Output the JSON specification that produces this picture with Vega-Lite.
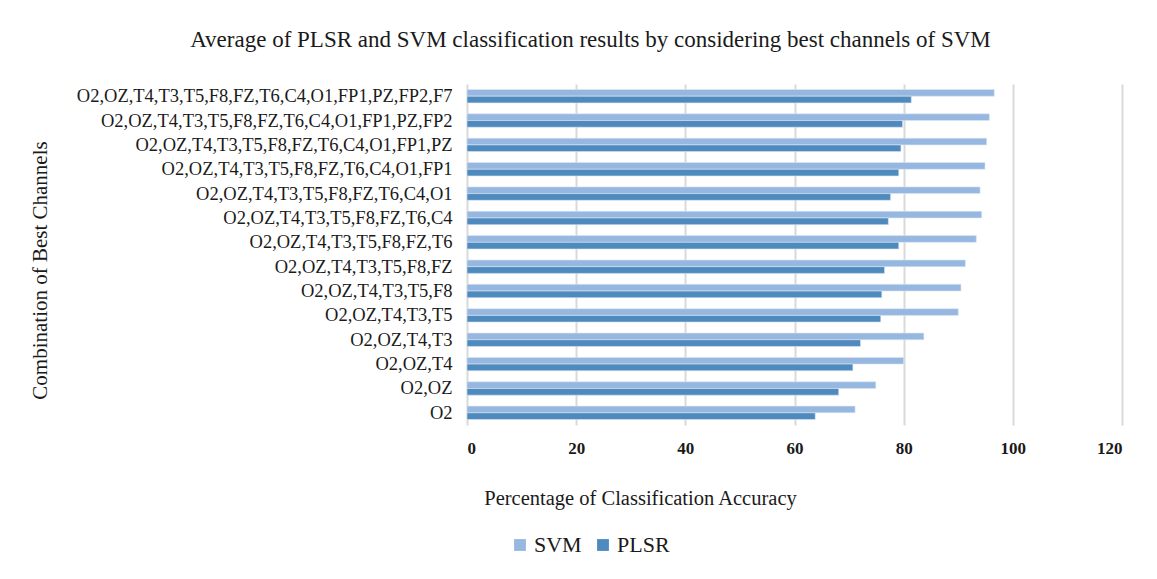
{
  "$schema": "https://vega.github.io/schema/vega-lite/v6.json",
  "autosize": "none",
  "width": 655,
  "height": 341,
  "padding": {"left": 467, "top": 84, "right": 35, "bottom": 154},
  "background": "white",
  "title": {
    "text": "Average of PLSR and SVM classification results by considering best channels of SVM",
    "font": "Liberation Serif",
    "fontSize": 23,
    "fontWeight": "normal",
    "color": "#1a1a1a",
    "anchor": "middle",
    "dx": -204,
    "offset": 32
  },
  "data": {
    "values": [
      {"combo": "O2,OZ,T4,T3,T5,F8,FZ,T6,C4,O1,FP1,PZ,FP2,F7", "method": "SVM", "acc": 96.6},
      {"combo": "O2,OZ,T4,T3,T5,F8,FZ,T6,C4,O1,FP1,PZ,FP2,F7", "method": "PLSR", "acc": 81.4},
      {"combo": "O2,OZ,T4,T3,T5,F8,FZ,T6,C4,O1,FP1,PZ,FP2", "method": "SVM", "acc": 95.7},
      {"combo": "O2,OZ,T4,T3,T5,F8,FZ,T6,C4,O1,FP1,PZ,FP2", "method": "PLSR", "acc": 79.8},
      {"combo": "O2,OZ,T4,T3,T5,F8,FZ,T6,C4,O1,FP1,PZ", "method": "SVM", "acc": 95.2},
      {"combo": "O2,OZ,T4,T3,T5,F8,FZ,T6,C4,O1,FP1,PZ", "method": "PLSR", "acc": 79.5},
      {"combo": "O2,OZ,T4,T3,T5,F8,FZ,T6,C4,O1,FP1", "method": "SVM", "acc": 94.9},
      {"combo": "O2,OZ,T4,T3,T5,F8,FZ,T6,C4,O1,FP1", "method": "PLSR", "acc": 79.1},
      {"combo": "O2,OZ,T4,T3,T5,F8,FZ,T6,C4,O1", "method": "SVM", "acc": 94.0},
      {"combo": "O2,OZ,T4,T3,T5,F8,FZ,T6,C4,O1", "method": "PLSR", "acc": 77.6},
      {"combo": "O2,OZ,T4,T3,T5,F8,FZ,T6,C4", "method": "SVM", "acc": 94.3},
      {"combo": "O2,OZ,T4,T3,T5,F8,FZ,T6,C4", "method": "PLSR", "acc": 77.2},
      {"combo": "O2,OZ,T4,T3,T5,F8,FZ,T6", "method": "SVM", "acc": 93.3},
      {"combo": "O2,OZ,T4,T3,T5,F8,FZ,T6", "method": "PLSR", "acc": 79.1},
      {"combo": "O2,OZ,T4,T3,T5,F8,FZ", "method": "SVM", "acc": 91.3},
      {"combo": "O2,OZ,T4,T3,T5,F8,FZ", "method": "PLSR", "acc": 76.5},
      {"combo": "O2,OZ,T4,T3,T5,F8", "method": "SVM", "acc": 90.5},
      {"combo": "O2,OZ,T4,T3,T5,F8", "method": "PLSR", "acc": 76.0},
      {"combo": "O2,OZ,T4,T3,T5", "method": "SVM", "acc": 90.0},
      {"combo": "O2,OZ,T4,T3,T5", "method": "PLSR", "acc": 75.8},
      {"combo": "O2,OZ,T4,T3", "method": "SVM", "acc": 83.7},
      {"combo": "O2,OZ,T4,T3", "method": "PLSR", "acc": 72.1},
      {"combo": "O2,OZ,T4", "method": "SVM", "acc": 80.0},
      {"combo": "O2,OZ,T4", "method": "PLSR", "acc": 70.7},
      {"combo": "O2,OZ", "method": "SVM", "acc": 74.9},
      {"combo": "O2,OZ", "method": "PLSR", "acc": 68.1},
      {"combo": "O2", "method": "SVM", "acc": 71.1},
      {"combo": "O2", "method": "PLSR", "acc": 63.8}
    ]
  },
  "mark": {"type": "bar", "stroke": "#dbe6f3", "strokeWidth": 0.6},
  "encoding": {
    "y": {
      "field": "combo",
      "type": "nominal",
      "sort": null,
      "scale": {"paddingInner": 0.45, "paddingOuter": 0.225},
      "axis": {
        "title": "Combination of Best Channels",
        "titleFont": "Liberation Serif",
        "titleFontSize": 21,
        "titleFontWeight": "normal",
        "titleColor": "#1a1a1a",
        "titleAngle": -90,
        "titleAlign": "center",
        "titleBaseline": "middle",
        "titleX": -427,
        "titleY": 186,
        "labelFont": "Liberation Serif",
        "labelFontSize": 18.5,
        "labelColor": "#1a1a1a",
        "labelPadding": 15,
        "labelLimit": 500,
        "ticks": false,
        "domain": false,
        "grid": false
      }
    },
    "yOffset": {
      "field": "method",
      "type": "nominal",
      "sort": ["SVM", "PLSR"],
      "scale": {"paddingInner": 0, "paddingOuter": 0}
    },
    "x": {
      "field": "acc",
      "type": "quantitative",
      "scale": {"domain": [0, 120], "nice": false},
      "axis": {
        "values": [0, 20, 40, 60, 80, 100, 120],
        "title": "Percentage of Classification Accuracy",
        "titleFont": "Liberation Serif",
        "titleFontSize": 20.5,
        "titleFontWeight": "normal",
        "titleColor": "#1a1a1a",
        "titleX": 173,
        "titleY": 73,
        "titleAlign": "center",
        "titleBaseline": "middle",
        "labelFont": "Liberation Serif",
        "labelFontSize": 17,
        "labelFontWeight": "bold",
        "labelColor": "#1a1a1a",
        "labelPadding": 15,
        "ticks": false,
        "domain": false,
        "grid": true,
        "gridColor": "#d9d9d9",
        "gridWidth": 2
      }
    },
    "color": {
      "field": "method",
      "type": "nominal",
      "scale": {"domain": ["SVM", "PLSR"], "range": ["#96b7df", "#4f8abe"]},
      "legend": {
        "title": null,
        "orient": "none",
        "direction": "horizontal",
        "legendX": 42,
        "legendY": 450,
        "symbolType": "square",
        "symbolSize": 140,
        "symbolStrokeWidth": 0,
        "labelFont": "Liberation Serif",
        "labelFontSize": 22,
        "labelColor": "#1a1a1a",
        "labelOffset": 3,
        "columnPadding": 10
      }
    }
  },
  "config": {"view": {"stroke": null}}
}
